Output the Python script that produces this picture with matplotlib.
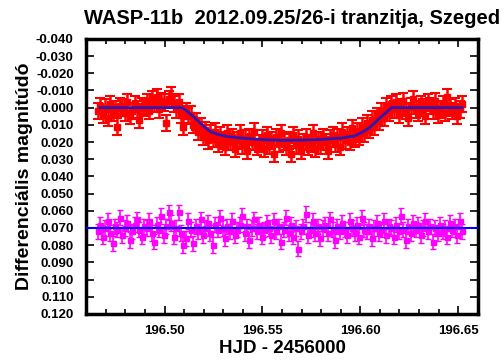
import numpy as np
import matplotlib
matplotlib.use("Agg")
import matplotlib.pyplot as plt
from matplotlib.ticker import MultipleLocator, FormatStrFormatter

plt.rcParams['font.family'] = ['Liberation Sans', 'DejaVu Sans']

# observation window (HJD - 2456000), evenly sampled
t_first, t_last = 196.466, 196.652

# WASP-11 differential magnitude, mmag
target_mmag = [
    2, -1, 4, 0, 6, -2, 3, 1, 11, -1,
    0, 3, -3, 5, 2, -2, 1, 7, -1, 0,
    -3, 2, -5, -2, -6, 1, -4, -3, 9, -5,
    -7, -2, 1, -3, 4,
    11, 2, 5, 4, 10, 8, 14, 11, 17, 13, 19, 15,
    18, 14, 21, 16, 19, 23, 15, 20, 17, 24,
    19, 15, 22, 18, 25, 17, 20, 14, 23, 21,
    18, 24, 16, 22, 19, 27, 17, 21, 15, 20,
    23, 19, 27, 16, 22, 18, 25, 20, 17, 23,
    21, 15, 24, 19, 22, 17, 20, 25, 18, 16,
    21, 17, 23, 14, 19,
    16, 20, 12, 18, 14, 17, 11, 15, 9, 13,
    7, 11, 5, 8, 2, 6, -1, 3, -2, 1,
    -3, 4, 0, -4, 2, 6, -1, -5, 1, 3,
    -2, 0, 5, -3, -1, 2, -4, 4, 1, -2,
    3, -6, 0, 2, -1, 5, 1, -2,
]

# comparison star, mmag
comp_mmag = [
    72, 68, 75, 70, 66, 73, 79, 69, 71, 64,
    74, 70, 67, 77, 72, 68, 65, 71, 75, 69,
    70, 66, 73, 78, 68, 71, 63, 74, 69, 61,
    67, 75, 70, 61, 73, 80, 76, 66, 71, 79,
    69, 72, 65, 74, 70, 67, 73, 80, 68, 71,
    64, 70, 76, 69, 72, 66, 74, 71, 68, 63,
    73, 69, 77, 70, 65, 72, 68, 75, 71, 67,
    70, 74, 66, 72, 69, 78, 71, 64, 73, 68,
    75, 70, 82, 72, 69, 62, 74, 71, 66, 73,
    69, 76, 70, 68, 73, 65, 71, 77, 69, 72,
    67, 71, 74, 66, 70, 73, 68, 75, 64, 71,
    72, 69, 76, 70, 67, 73, 71, 66, 74, 69,
    70, 75, 68, 72, 63, 71, 77, 69, 73, 67,
    71, 68, 74, 70, 66, 72, 69, 78, 70, 73,
    68, 72, 70, 75, 67, 71, 69, 74, 66, 72,
]

target_err = 0.0048
comp_err = 0.0045

# fitted transit model
model_t = [196.467, 196.509, 196.512, 196.515, 196.518, 196.521, 196.5235,
           196.527, 196.532, 196.540, 196.550, 196.560, 196.570, 196.580,
           196.590, 196.597, 196.6015, 196.6045, 196.6075, 196.6105,
           196.6135, 196.616, 196.652]
model_mag = [0.0, 0.0, 0.0025, 0.0055, 0.0087, 0.0118, 0.0140,
             0.0155, 0.0168, 0.0178, 0.0186, 0.0190, 0.0189, 0.0185,
             0.0177, 0.0165, 0.0140, 0.0118, 0.0087, 0.0055,
             0.0025, 0.0, 0.0]

comp_level = 0.070

t = np.linspace(t_first, t_last, len(target_mmag))
target = np.array(target_mmag) / 1000.0
comp = np.array(comp_mmag) / 1000.0

fig = plt.figure(figsize=(5.04, 3.6), dpi=100)
ax = fig.add_axes([0.171, 0.128, 0.777, 0.764])

ax.errorbar(t, comp, yerr=comp_err, fmt='s', color='#ff00ff', ms=3.6,
            elinewidth=1.2, capsize=2.2, capthick=1.0, zorder=2)
ax.errorbar(t, target, yerr=target_err, fmt='s', color='#ff0000', ms=4,
            elinewidth=1.8, capsize=3.5, capthick=1.5, zorder=2)
ax.plot(model_t, model_mag, color='#3018b0', lw=2.0, zorder=3)
ax.axhline(comp_level, color='#0000ff', lw=1.5, zorder=3)

ax.set_xlim(196.460, 196.660)
ax.set_ylim(0.120, -0.040)
ax.xaxis.set_major_locator(MultipleLocator(0.05))
ax.xaxis.set_minor_locator(MultipleLocator(0.01))
ax.yaxis.set_major_locator(MultipleLocator(0.01))
ax.xaxis.set_major_formatter(FormatStrFormatter('%.2f'))
ax.yaxis.set_major_formatter(FormatStrFormatter('%.3f'))
ax.tick_params(which='both', direction='in', top=True, right=True,
               labelsize=9.5, width=1.2)
ax.tick_params(which='major', length=6)
ax.tick_params(which='minor', length=3.5)
ax.tick_params(axis='x', pad=8)
ax.tick_params(axis='y', pad=9)
for lab in ax.get_xticklabels() + ax.get_yticklabels():
    lab.set_fontweight('bold')
for sp in ax.spines.values():
    sp.set_linewidth(2.5)

ax.set_xlabel('HJD - 2456000', fontsize=13.5, fontweight='bold', labelpad=2)
ax.set_ylabel('Differenciális magnitúdó', fontsize=14, fontweight='bold')
ax.yaxis.set_label_coords(-0.135, 0.5)
fig.text(0.58, 0.95, 'WASP-11b  2012.09.25/26-i tranzitja, Szeged',
         ha='center', va='center', fontsize=14.5, fontweight='bold')

fig.savefig('out.png', dpi=100)
